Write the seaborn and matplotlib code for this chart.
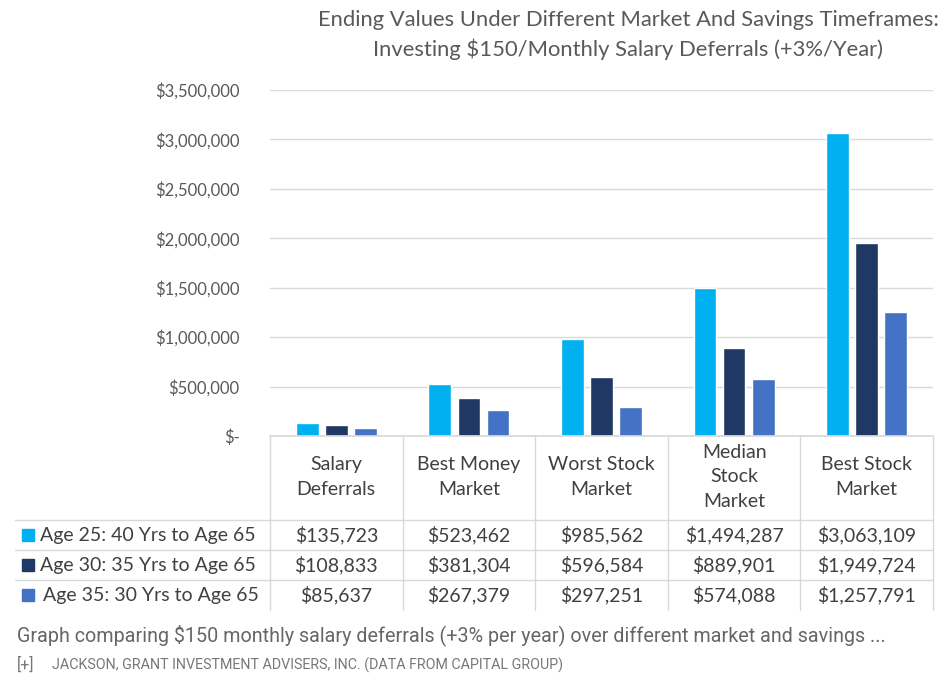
import matplotlib
matplotlib.use("Agg")
import matplotlib.pyplot as plt
import seaborn as sns
import pandas as pd
from matplotlib.patches import Rectangle
from matplotlib.lines import Line2D

categories = ["Salary\nDeferrals", "Best Money\nMarket", "Worst Stock\nMarket", "Median\nStock\nMarket", "Best Stock\nMarket"]
series = ["Age 25: 40 Yrs to Age 65", "Age 30: 35 Yrs to Age 65", "Age 35: 30 Yrs to Age 65"]
age25 = [135723, 523462, 985562, 1494287, 3063109]
age30 = [108833, 381304, 596584, 889901, 1949724]
age35 = [85637, 267379, 297251, 574088, 1257791]
yticks = [0, 500000, 1000000, 1500000, 2000000, 2500000, 3000000, 3500000]
ytick_labels = ["$-", "$500,000", "$1,000,000", "$1,500,000", "$2,000,000", "$2,500,000", "$3,000,000", "$3,500,000"]
colors = ["#00B0F0", "#1F3864", "#4472C4"]

rows = []
for s, vals in zip(series, [age25, age30, age35]):
    for c, v in zip(categories, vals):
        rows.append({"cat": c, "series": s, "value": v})
df = pd.DataFrame(rows)

sns.set_theme(style="white")
plt.rcParams['font.family'] = ['Lato', 'DejaVu Sans']

W, H = 951, 685
fig = plt.figure(figsize=(W / 100, H / 100), dpi=100)

def fx(x):
    return x / W

def fy(y):
    return 1 - y / H

ax_l, ax_r, ax_t, ax_b = 270, 933, 90, 436
ax = fig.add_axes([fx(ax_l), fy(ax_b), fx(ax_r - ax_l), (ax_b - ax_t) / H])
sns.barplot(data=df, x="cat", y="value", hue="series", hue_order=series, order=categories,
            palette=colors, width=0.66, gap=0.22, ax=ax, legend=False, saturation=1)
ax.set_xlim(-0.5, len(categories) - 0.5)
ax.set_ylim(0, 3500000)
ax.set_yticks(yticks)
ax.set_yticklabels(ytick_labels, fontsize=12, color="#595959")
ax.set_xticks([])
ax.set_xlabel("")
ax.set_ylabel("")
ax.yaxis.grid(True, color="#D9D9D9", linewidth=1)
ax.set_axisbelow(True)
for sp in ["top", "right", "left"]:
    ax.spines[sp].set_visible(False)
ax.spines["bottom"].set_color("#D9D9D9")
ax.tick_params(axis="y", length=0, pad=22)

# Title
fig.text(fx(628), fy(20), "Ending Values Under Different Market And Savings Timeframes:",
         ha="center", va="center", fontsize=15.8, color="#595959")
fig.text(fx(628), fy(49), "Investing $150/Monthly Salary Deferrals (+3%/Year)",
         ha="center", va="center", fontsize=15.8, color="#595959")

# Data table
gridc = "#D9D9D9"
col_edges = [270 + i * (ax_r - ax_l) / 5 for i in range(6)]
row_edges = [436, 520, 550, 580, 610]
for x in col_edges:
    fig.add_artist(Line2D([fx(x), fx(x)], [fy(436), fy(610)], color=gridc, lw=1))
for y in row_edges[1:4]:
    fig.add_artist(Line2D([fx(15), fx(ax_r)], [fy(y), fy(y)], color=gridc, lw=1))

for i, c in enumerate(categories):
    cx = (col_edges[i] + col_edges[i + 1]) / 2
    fig.text(fx(cx), fy(477), c, ha="center", va="center", fontsize=14, color="#404040",
             linespacing=1.55)

for r, (s, vals) in enumerate(zip(series, [age25, age30, age35])):
    cy = (row_edges[r + 1] + row_edges[r + 2]) / 2
    fig.add_artist(Rectangle((fx(22), fy(cy + 6)), 12 / W, 12 / H, color=colors[r]))
    fig.text(fx(40 if r < 2 else 43), fy(cy), s, ha="left", va="center", fontsize=14, color="#404040")
    for i, v in enumerate(vals):
        cx = (col_edges[i] + col_edges[i + 1]) / 2
        fig.text(fx(cx), fy(cy), f"${v:,}", ha="center", va="center", fontsize=14, color="#404040")

# Caption and source
fig.text(fx(17), fy(635), "Graph comparing $150 monthly salary deferrals (+3% per year) over different market and savings ...",
         ha="left", va="center", fontsize=14.2, color="#666666", family=["Roboto", "DejaVu Sans"])
fig.text(fx(17), fy(665), "[+]", ha="left", va="center", fontsize=11.5, color="#777777", family=["Roboto", "DejaVu Sans"])
fig.text(fx(52), fy(665), "JACKSON, GRANT INVESTMENT ADVISERS, INC. (DATA FROM CAPITAL GROUP)",
         ha="left", va="center", fontsize=10.3, color="#777777", family=["Roboto", "DejaVu Sans"])

fig.savefig("out.png", dpi=100, facecolor="white")
